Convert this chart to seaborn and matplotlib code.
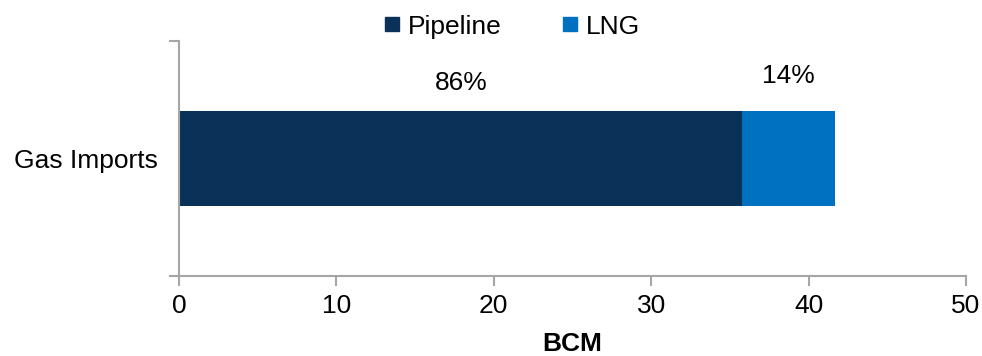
import matplotlib
matplotlib.use("Agg")
import matplotlib.pyplot as plt
from matplotlib.lines import Line2D
import seaborn as sns
import pandas as pd

categories = ["Gas Imports"]
pipeline = [35.8]
lng = [5.85]
series_names = ["Pipeline", "LNG"]
x_ticks = [0, 10, 20, 30, 40, 50]

navy = "#0A3158"
blue = "#0070C0"
axis_grey = "#A6A6A6"

sns.set_theme(style="white")
plt.rcParams["font.family"] = ["Liberation Sans", "DejaVu Sans"]
plt.rcParams["text.color"] = "black"
plt.rcParams["xtick.labelcolor"] = "black"
plt.rcParams["ytick.labelcolor"] = "black"
plt.rcParams["axes.labelcolor"] = "black"

fs = 19

totals = [p + l for p, l in zip(pipeline, lng)]
df = pd.DataFrame({"cat": categories, "pipeline": pipeline, "lng": lng, "total": totals})

fig = plt.figure(figsize=(9.82, 3.56), dpi=100)
ax = fig.add_axes([0.1823, 0.2247, 0.8014, 0.6601])

# stacked bar: full total in LNG colour, pipeline share drawn over it
sns.barplot(data=df, x="total", y="cat", color=blue, width=0.404,
            saturation=1, ax=ax, orient="h", linewidth=0)
sns.barplot(data=df, x="pipeline", y="cat", color=navy, width=0.404,
            saturation=1, ax=ax, orient="h", linewidth=0)

ax.set_xlim(0, 50)
ax.set_ylim(0.5, -0.5)
ax.set_xticks(x_ticks)
ax.set_xticklabels([str(t) for t in x_ticks], fontsize=fs)
ax.set_yticks([0])
ax.set_yticklabels(categories, fontsize=fs)
ax.set_yticks([-0.5, 0.5], minor=True)
ax.tick_params(axis="y", which="major", length=0, pad=15)
ax.tick_params(axis="y", which="minor", length=7, width=1.5, color=axis_grey, left=True)
ax.tick_params(axis="x", length=7, width=1.5, color=axis_grey, bottom=True, pad=6)

for side in ["top", "right"]:
    ax.spines[side].set_visible(False)
for side in ["left", "bottom"]:
    ax.spines[side].set_color(axis_grey)
    ax.spines[side].set_linewidth(1.5)

ax.set_ylabel("")
ax.set_xlabel("BCM", fontsize=fs, fontweight="bold", labelpad=10)

# share labels above each segment
for i, (p, l, t) in enumerate(zip(pipeline, lng, totals)):
    ax.text(p / 2, -0.32, f"{p / t * 100:.0f}%", ha="center", va="center", fontsize=fs)
    ax.text(p + l / 2, -0.35, f"{l / t * 100:.0f}%", ha="center", va="center", fontsize=fs)

handles = [Line2D([], [], marker="s", linestyle="", markersize=10,
                  markerfacecolor=c, markeredgecolor=c) for c in (navy, blue)]
fig.legend(handles, series_names, loc="center", bbox_to_anchor=(0.519, 0.925),
           ncol=2, frameon=False, fontsize=fs, handletextpad=0.1,
           columnspacing=2.1, handlelength=1.0)

fig.savefig("out.png", dpi=100)
